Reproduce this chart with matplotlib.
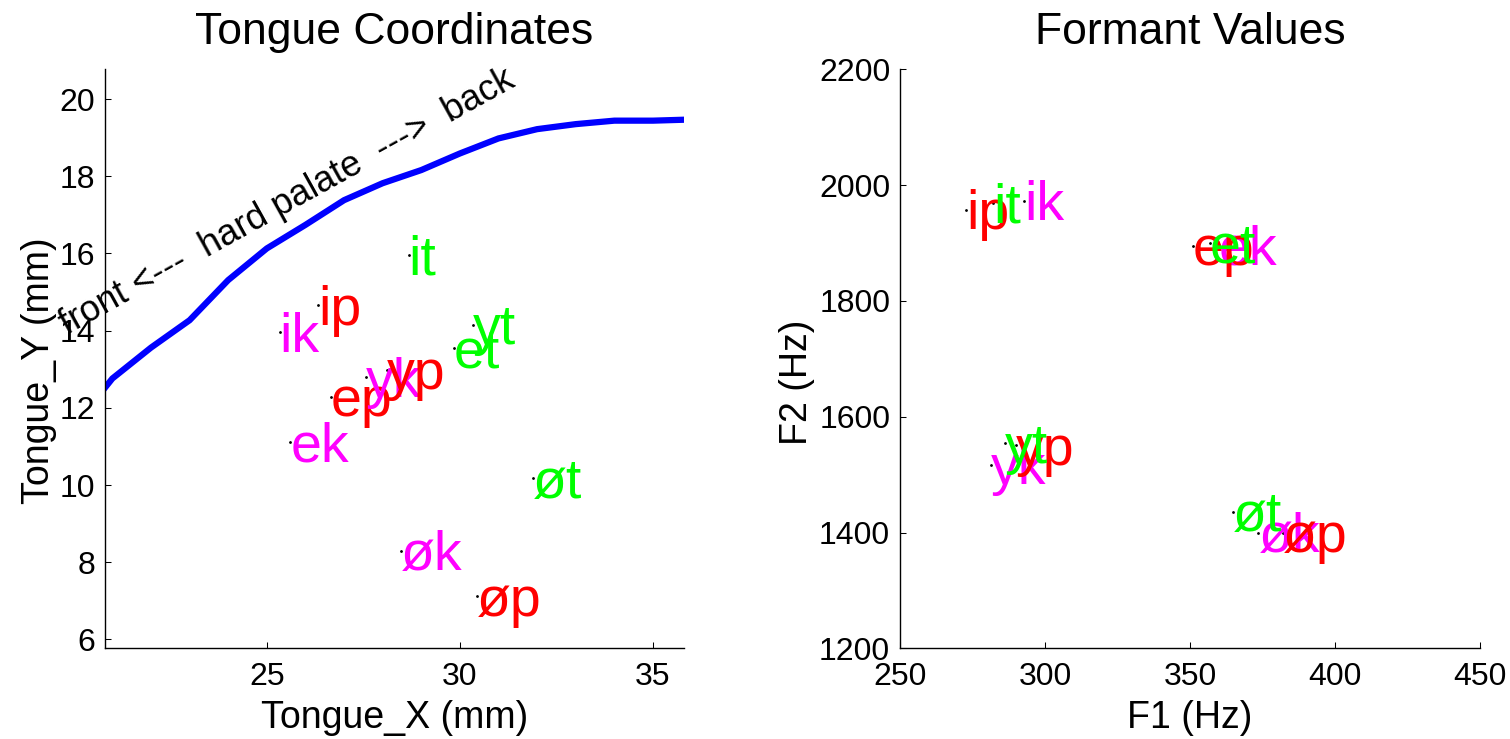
import matplotlib
matplotlib.use('Agg')
import matplotlib.pyplot as plt
import matplotlib as mpl

# Plot customizations
mpl.rcParams['font.family'] = ['Liberation Sans', 'DejaVu Sans']
mpl.rcParams['font.size'] = 23.0
mpl.rcParams['axes.linewidth'] = 1.0
mpl.rcParams['xtick.direction'] = 'in'
mpl.rcParams['ytick.direction'] = 'in'

# Tokens (vowel + consonant), drawn in this order
labels = ['ek', 'ep', 'et', 'ik', 'ip', 'it', 'yk', 'yp', 'yt', 'øk', 'øp', 'øt']
colors = {'p': '#ff0000', 't': '#00ff00', 'k': '#ff00ff'}

# Tongue position (mm)
tongue_x = [25.61, 26.65, 29.85, 25.33, 26.32, 28.67, 27.57, 28.12, 30.34, 28.47, 30.43, 31.89]
tongue_y = [11.12, 12.29, 13.54, 13.96, 14.66, 15.96, 12.79, 12.98, 14.15, 8.30, 7.12, 10.17]

# Formants (Hz)
f1 = [360.0, 350.9, 356.9, 292.8, 272.8, 282.2, 281.4, 290.0, 286.2, 373.6, 382.0, 364.7]
f2 = [1896, 1895, 1900, 1973, 1957, 1969, 1517, 1551, 1554, 1400, 1400, 1436]

# Hard palate trace (mm)
palate_x = [20.8, 21, 22, 23, 24, 25, 26, 27, 28, 29, 30, 31, 32, 33, 34, 35, 36]
palate_y = [12.51, 12.76, 13.56, 14.27, 15.31, 16.13, 16.74, 17.38, 17.82, 18.16,
            18.59, 18.98, 19.22, 19.35, 19.44, 19.44, 19.47]

fig = plt.figure(figsize=(15.1, 7.39), dpi=100)
ax1 = fig.add_axes([0.0693, 0.1227, 0.3836, 0.7835])
ax2 = fig.add_axes([0.596, 0.1227, 0.3841, 0.7835])


def label_points(ax, xs, ys):
    ax.plot(xs, ys, 'k.', markersize=2)
    for lab, x, y in zip(labels, xs, ys):
        ax.annotate(lab, (x, y), xytext=(0, -14), textcoords='offset points',
                    ha='left', va='baseline', fontsize=40, color=colors[lab[-1]])


def style(ax):
    for side in ['top', 'right']:
        ax.spines[side].set_visible(False)
    ax.tick_params(length=4, width=0.75)
    ax.tick_params(axis='x', pad=10)
    ax.tick_params(axis='y', pad=7)


# Tongue coordinates
ax1.plot(palate_x, palate_y, color='#0000ff', linewidth=4.5)
label_points(ax1, tongue_x, tongue_y)
ax1.text(19.83, 13.9, 'front <---  hard palate  --->  back', rotation=29,
         rotation_mode='anchor', ha='left', va='baseline', fontsize=26)
ax1.set_xlim(20.8, 35.8)
ax1.set_ylim(5.77, 20.77)
ax1.set_xticks([25, 30, 35])
ax1.set_yticks(range(6, 21, 2))
ax1.set_title('Tongue Coordinates', fontsize=32, pad=18)
ax1.set_xlabel('Tongue_X (mm)', fontsize=27)
ax1.set_ylabel('Tongue_Y (mm)', fontsize=27)
ax1.xaxis.set_label_coords(0.5, -0.09)
ax1.yaxis.set_label_coords(-0.082, 0.48)
style(ax1)

# Formant values
label_points(ax2, f1, f2)
ax2.set_xlim(250, 450)
ax2.set_ylim(1200, 2200)
ax2.set_xticks(range(250, 451, 50))
ax2.set_yticks(range(1200, 2201, 200))
ax2.set_title('Formant Values', fontsize=32, pad=18)
ax2.set_xlabel('F1 (Hz)', fontsize=27)
ax2.set_ylabel('F2 (Hz)', fontsize=27)
ax2.xaxis.set_label_coords(0.5, -0.09)
ax2.yaxis.set_label_coords(-0.147, 0.46)
style(ax2)

fig.savefig('out.png', dpi=100)
